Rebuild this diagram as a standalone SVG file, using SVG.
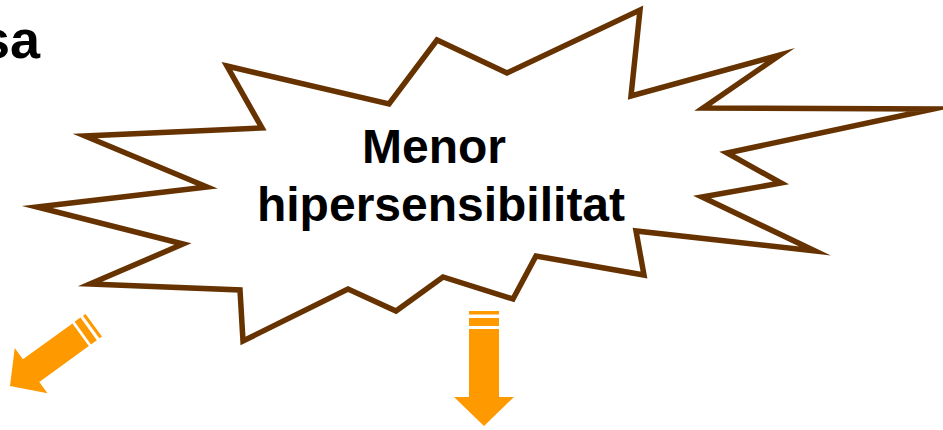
<svg xmlns="http://www.w3.org/2000/svg" width="943" height="430" viewBox="0 0 943 430">
<style>
.burst{fill:#ffffff;stroke:#663300;stroke-width:5.5;stroke-linejoin:miter;stroke-miterlimit:20}
.lbl{font-family:"Liberation Sans",Arial,sans-serif;font-weight:bold;font-size:48px;fill:#000000}
.arr{fill:#ff9900}
</style>
<defs>
<g id="arrowDown">
<polygon points="0,0 -30,-29 -15,-29 -15,-97 15,-97 15,-29 30,-29"/>
<rect x="-15" y="-108" width="30" height="8"/>
<rect x="-15" y="-115" width="30" height="3.5"/>
</g>
</defs>
<rect width="943" height="430" fill="#ffffff"/>
<g id="title-fragment">
<text class="lbl" x="-20" y="58" style="font-size:54px">sa</text>
</g>
<g id="burst-node">
<polygon class="burst" points="227,66 389,104 437,40 507,73 640,10 631,96 780,55 703,108 933,109 727,153 781,183 702,197 815,251 636,231 644,275 536,256 513,299 443,277 396,311 348,289 243,341 240,290 90,284 183,244 37,207 207,187 85,136 262,128"/>
<text class="lbl" x="434" y="163" text-anchor="middle">Menor</text>
<text class="lbl" x="441" y="221" text-anchor="middle">hipersensibilitat</text>
</g>
<g id="connectors">
<use href="#arrowDown" class="arr" transform="translate(484,426)"/>
<use href="#arrowDown" class="arr" transform="translate(10,386) rotate(54) scale(0.93,0.9)"/>
</g>
</svg>
